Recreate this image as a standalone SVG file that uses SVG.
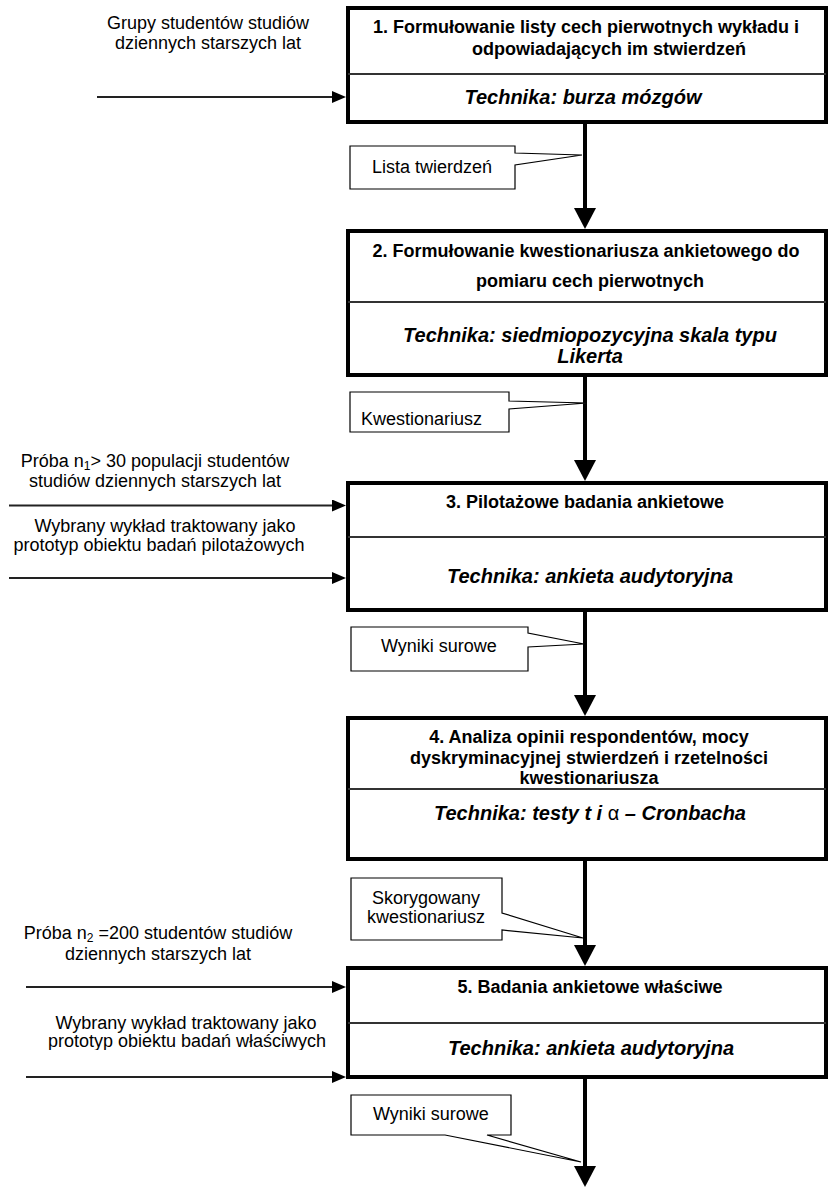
<svg xmlns="http://www.w3.org/2000/svg" width="828" height="1187" viewBox="0 0 828 1187">
  <style>
    .box { fill: #fff; stroke: #000; stroke-width: 4; }
    .sep { stroke: #333; stroke-width: 2; }
    .txt { font-family: "Liberation Sans", Arial, sans-serif; font-size: 18px; fill: #000; }
    .ttl { font-weight: bold; text-anchor: middle; }
    .tech { font-weight: bold; font-style: italic; font-size: 20px; text-anchor: middle; }
    .mid { text-anchor: middle; }
    .call { fill: #fff; stroke: #000; stroke-width: 1.2; }
    .in { stroke: #222; stroke-width: 2; fill: none; }
    .flow { stroke: #000; stroke-width: 4; fill: none; }
  </style>
  <defs>
    <marker id="headSmall" viewBox="0 0 14 12" refX="0" refY="6" markerWidth="14" markerHeight="12" markerUnits="userSpaceOnUse" orient="auto">
      <path d="M0,0 L14,6 L0,12 Z" fill="#000"/>
    </marker>
    <marker id="headBig" viewBox="0 0 21 22" refX="0" refY="11" markerWidth="21" markerHeight="22" markerUnits="userSpaceOnUse" orient="auto">
      <path d="M0,0 L21,11 L0,22 Z" fill="#000"/>
    </marker>
    <clipPath id="cutLine">
      <rect x="0" y="1000" width="346" height="50"/>
    </clipPath>
  </defs>

  <rect width="828" height="1187" fill="#fff"/>

  <!-- connectors -->
  <g id="connectors">
    <line class="flow" x1="585" y1="124" x2="585" y2="208" marker-end="url(#headBig)"/>
    <line class="flow" x1="585" y1="377" x2="585" y2="460" marker-end="url(#headBig)"/>
    <line class="flow" x1="585" y1="612" x2="585" y2="695" marker-end="url(#headBig)"/>
    <line class="flow" x1="585" y1="861" x2="585" y2="945" marker-end="url(#headBig)"/>
    <line class="flow" x1="585" y1="1079" x2="585" y2="1166" marker-end="url(#headBig)"/>

    <line class="in" x1="97" y1="97" x2="332" y2="97" marker-end="url(#headSmall)"/>
    <line class="in" x1="9" y1="505.5" x2="332" y2="505.5" marker-end="url(#headSmall)"/>
    <line class="in" x1="9" y1="578" x2="332" y2="578" marker-end="url(#headSmall)"/>
    <line class="in" x1="26" y1="987" x2="332" y2="987" marker-end="url(#headSmall)"/>
    <line class="in" x1="26" y1="1077" x2="332" y2="1077" marker-end="url(#headSmall)"/>
  </g>

  <!-- inputs on the left -->
  <g id="input1" class="txt mid">
    <text x="208" y="29">Grupy studentów studiów</text>
    <text x="208" y="49">dziennych starszych lat</text>
  </g>
  <g id="input3a" class="txt mid">
    <text x="155" y="467">Próba n<tspan font-size="12" dy="3">1</tspan><tspan dy="-3">&gt; 30 populacji studentów</tspan></text>
    <text x="155" y="487">studiów dziennych starszych lat</text>
  </g>
  <g id="input3b" class="txt mid">
    <text x="165" y="532">Wybrany wykład traktowany jako</text>
    <text x="159" y="551">prototyp obiektu badań pilotażowych</text>
  </g>
  <g id="input5a" class="txt mid">
    <text x="158" y="939">Próba n<tspan font-size="12" dy="3">2</tspan><tspan dy="-3"> =200 studentów studiów</tspan></text>
    <text x="158" y="960">dziennych starszych lat</text>
  </g>
  <g id="input5b" class="txt mid">
    <text x="186" y="1029">Wybrany wykład traktowany jako</text>
    <text x="187" y="1047" clip-path="url(#cutLine)">prototyp obiektu badań właściwych</text>
  </g>

  <!-- step 1 -->
  <g id="step1">
    <rect class="box" x="348" y="8" width="478" height="114"/>
    <line class="sep" x1="348" y1="74" x2="826" y2="74"/>
    <text class="txt ttl" x="586" y="33">1. Formułowanie listy cech pierwotnych wykładu i</text>
    <text class="txt" x="472" y="55" font-weight="bold">odpowiadających im stwierdzeń</text>
    <text class="txt tech" x="583" y="104">Technika: burza mózgów</text>
  </g>

  <!-- step 2 -->
  <g id="step2">
    <rect class="box" x="348" y="231" width="478" height="144"/>
    <line class="sep" x1="348" y1="302" x2="826" y2="302"/>
    <text class="txt ttl" x="586" y="257">2. Formułowanie kwestionariusza ankietowego do</text>
    <text class="txt ttl" x="590" y="287">pomiaru cech pierwotnych</text>
    <text class="txt tech" x="590" y="342">Technika: siedmiopozycyjna skala typu</text>
    <text class="txt tech" x="590" y="363">Likerta</text>
  </g>

  <!-- step 3 -->
  <g id="step3">
    <rect class="box" x="348" y="483" width="478" height="127"/>
    <line class="sep" x1="348" y1="537" x2="826" y2="537"/>
    <text class="txt ttl" x="585" y="508">3. Pilotażowe badania ankietowe</text>
    <text class="txt tech" x="590" y="583">Technika: ankieta audytoryjna</text>
  </g>

  <!-- step 4 -->
  <g id="step4">
    <rect class="box" x="348" y="718" width="478" height="141"/>
    <line class="sep" x1="348" y1="789" x2="826" y2="789"/>
    <text class="txt ttl" x="589" y="743">4. Analiza opinii respondentów, mocy</text>
    <text class="txt ttl" x="589" y="764">dyskryminacyjnej stwierdzeń i rzetelności</text>
    <text class="txt ttl" x="589" y="784">kwestionariusza</text>
    <text class="txt tech" x="590" y="820">Technika: testy t i <tspan font-style="normal" font-weight="normal">α</tspan> – Cronbacha</text>
  </g>

  <!-- step 5 -->
  <g id="step5">
    <rect class="box" x="348" y="968" width="478" height="109"/>
    <line class="sep" x1="348" y1="1023" x2="826" y2="1023"/>
    <text class="txt ttl" x="590" y="993">5. Badania ankietowe właściwe</text>
    <text class="txt tech" x="591" y="1055">Technika: ankieta audytoryjna</text>
  </g>

  <!-- callouts on the flow -->
  <g id="note1">
    <path class="call" d="M350,146 H515 V153 L582,155 L515,165 V189 H350 Z"/>
    <text class="txt" x="372" y="173">Lista twierdzeń</text>
  </g>
  <g id="note2">
    <path class="call" d="M350,392 H509 V401 L587,403 L509,409 V432 H350 Z"/>
    <text class="txt" x="361" y="425">Kwestionariusz</text>
  </g>
  <g id="note3">
    <path class="call" d="M351,627 H528 V633 L584,644 L528,647 V671 H351 Z"/>
    <text class="txt" x="381" y="652">Wyniki surowe</text>
  </g>
  <g id="note4">
    <path class="call" d="M351,878 H502 V913 L583,938 L502,930 V940 H351 Z"/>
    <text class="txt mid" x="426" y="904">Skorygowany</text>
    <text class="txt mid" x="426" y="923">kwestionariusz</text>
  </g>
  <g id="note5">
    <path class="call" d="M351,1095 H511 V1135 H487 L581,1162 L445,1135 H351 Z"/>
    <text class="txt" x="373" y="1120">Wyniki surowe</text>
  </g>
</svg>
